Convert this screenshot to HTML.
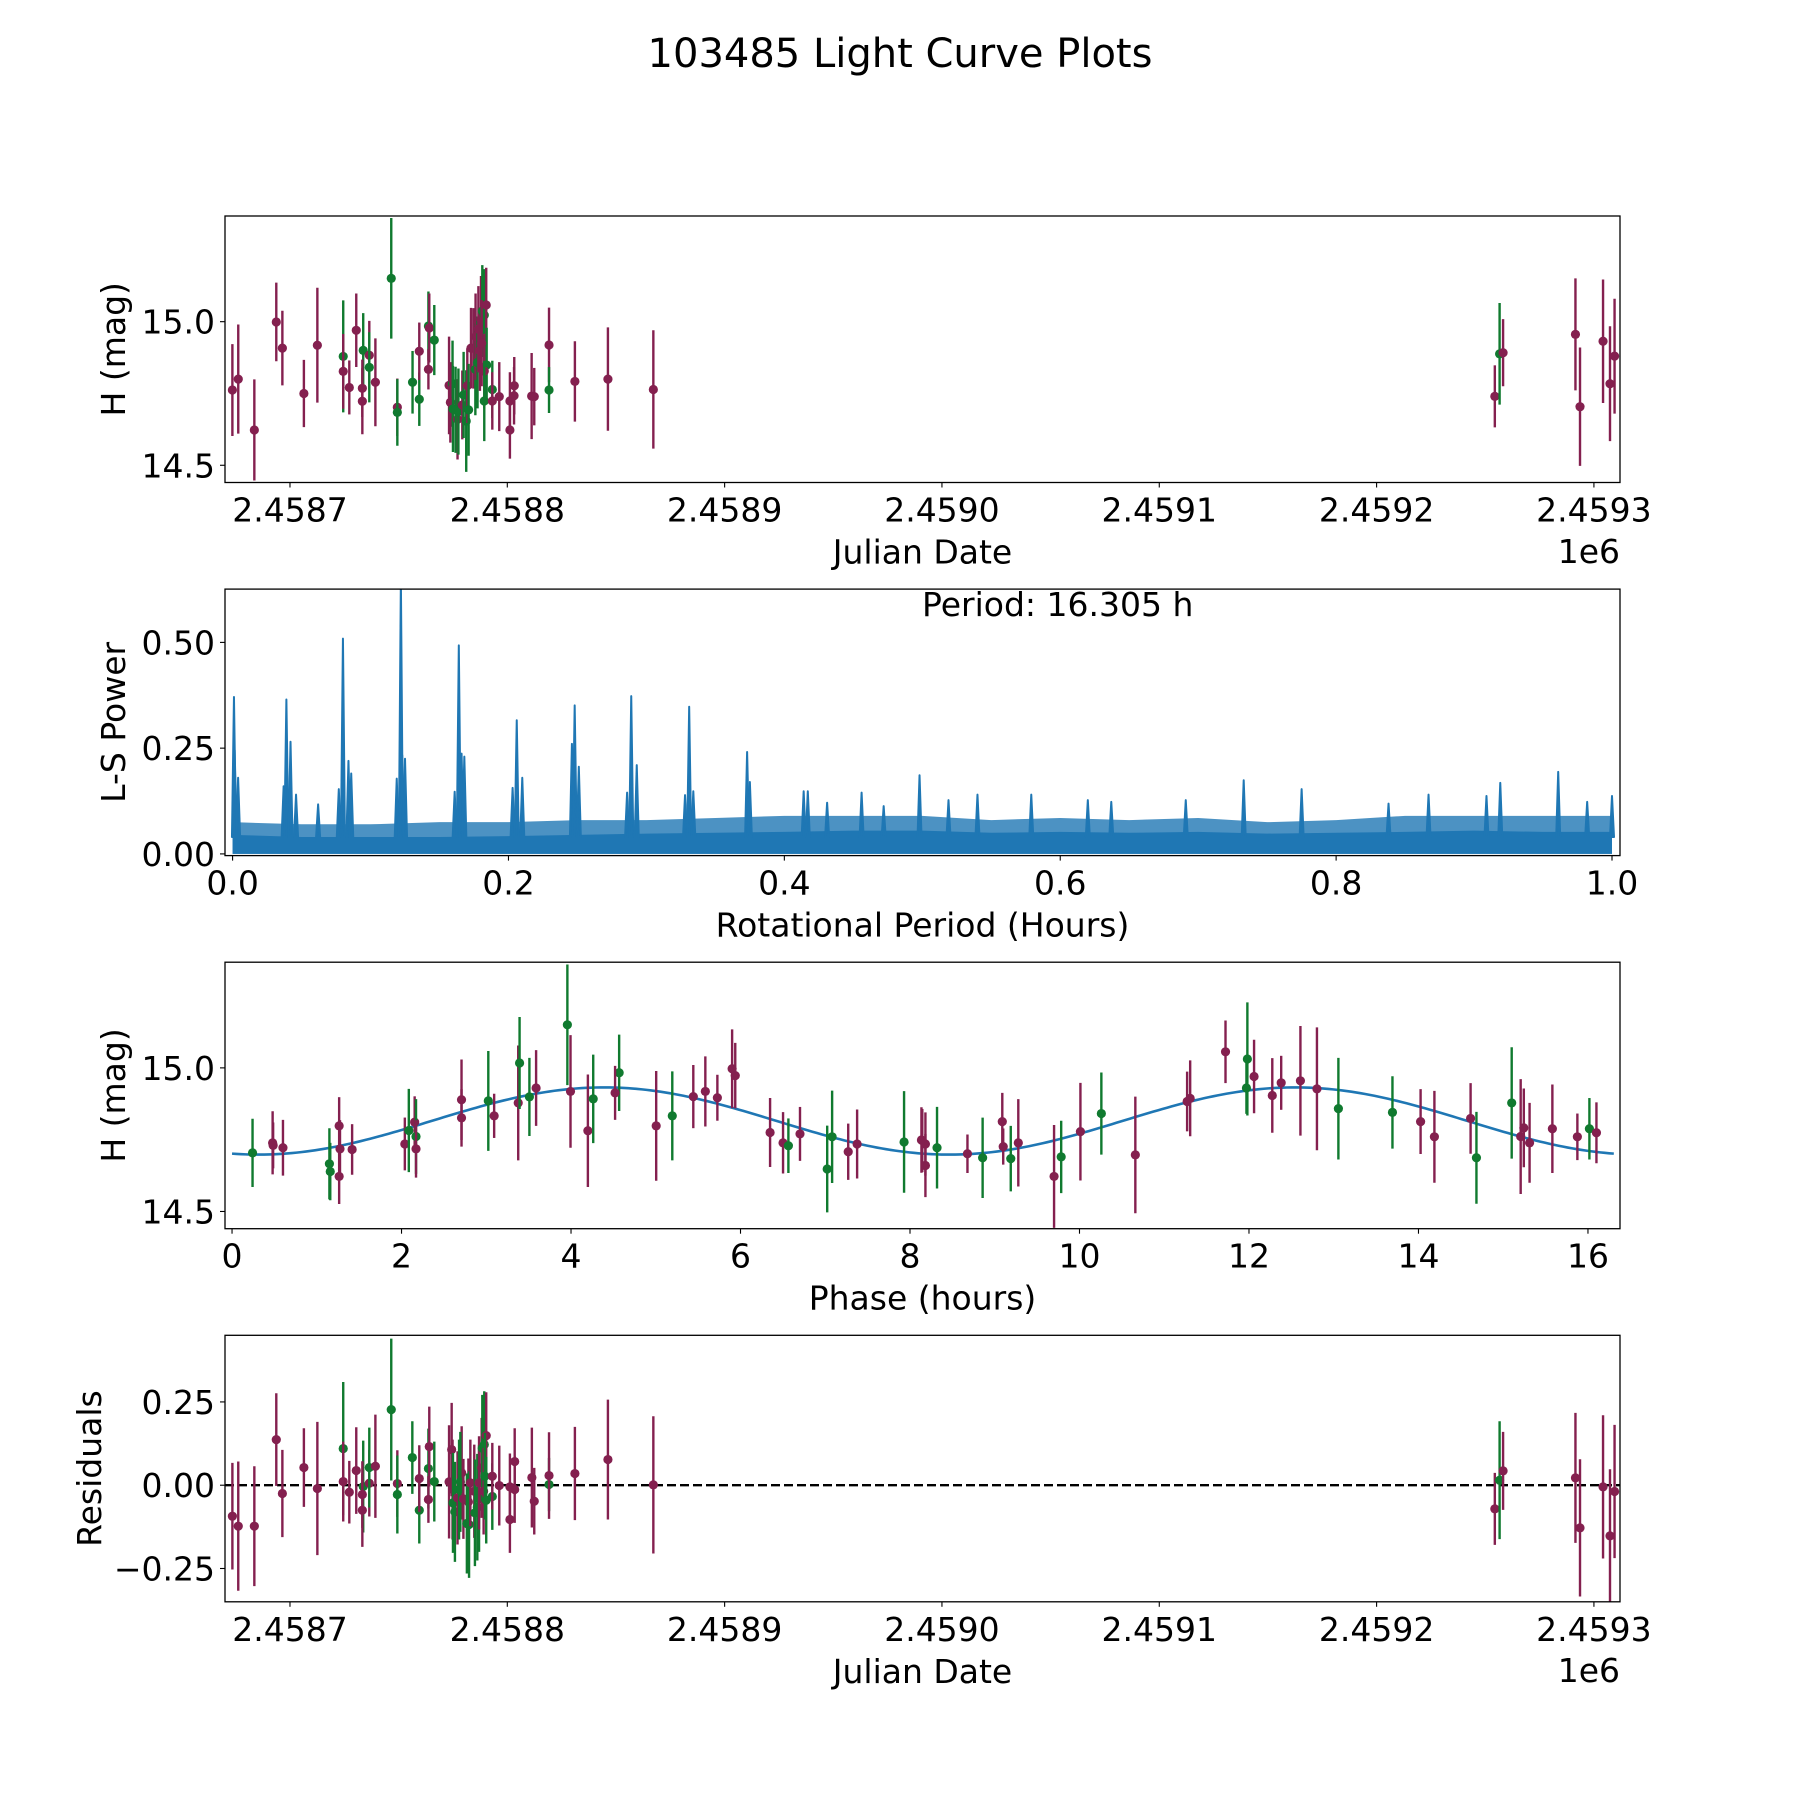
<!DOCTYPE html>
<html><head><meta charset="utf-8"><title>103485 Light Curve Plots</title>
<style>html,body{margin:0;padding:0;background:#fff}svg{display:block}text{font-family:"DejaVu Sans","Liberation Sans",sans-serif;fill:#000}</style>
</head><body>
<svg id="fig" xmlns="http://www.w3.org/2000/svg" width="1800" height="1800" viewBox="0 0 1800 1800">
<rect width="1800" height="1800" fill="#fff"/>
<text x="900" y="67" font-size="40" text-anchor="middle">103485 Light Curve Plots</text>
</svg>
<script>
// ---------- data: light curve (days from 2458700 -> JD) ----------
const lcDay=[-26.5,-23.8,-16.4,-6.3,-3.5,6.4,12.6,24.5,24.5,27.3,30.5,33.7,33.3,33.3,36.5,36.5,39.3,46.6,49.4,49.4,56.4,59.5,59.5,63.7,64.1,63.7,66.4,
73.2,74.8,73.8,75.0,77.1,76.2,77.5,79.3,79.9,81.1,81.6,82.2,83.3,84.4,85.3,85.4,86.3,86.7,87.4,87.9,88.5,89.4,90.3,90.5,89.4,88.2,89.4,93.1,93.1,96.3,101.2,101.2,103.1,103.2,111.2,112.4,119.2,119.2,131.1,146.3,167.2,
554.4,556.6,558.2,591.5,593.6,604.2,607.4,609.5];
const lcMag=[14.762,14.8,14.623,14.999,14.908,14.75,14.918,14.879,14.827,14.771,14.97,14.9,14.768,14.723,14.883,14.841,14.789,15.151,14.702,14.684,14.789,14.73,14.897,14.985,14.978,14.834,14.936,
14.778,14.784,14.719,14.696,14.66,14.693,14.687,14.71,14.745,14.654,14.777,14.693,14.908,14.907,14.834,14.948,14.858,14.974,14.899,15.009,15.037,15.023,15.058,14.849,14.828,14.925,14.724,14.764,14.724,14.739,14.724,14.623,14.742,14.777,14.741,14.739,14.919,14.762,14.792,14.8,14.764,
14.74,14.888,14.892,14.956,14.704,14.932,14.784,14.88];
const lcErr=[.16,.19,.176,.137,.13,.117,.2,.195,.13,.094,.128,.13,.1,.115,.12,.122,.153,.21,.1,.116,.109,.093,.1,.12,.12,.07,.122,
.17,.15,.14,.15,.14,.15,.15,.12,.15,.177,.13,.16,.14,.14,.16,.15,.16,.15,.14,.15,.16,.16,.13,.13,.13,.15,.14,.1,.1,.12,.1,.1,.1,.1,.15,.1,.13,.08,.14,.18,.206,
.108,.177,.117,.195,.206,.215,.2,.2];
const lcBand=["M","M","M","M","M","M","M","G","M","M","M","G","M","M","M","G","M","G","M","G","G","G","M","G","M","M","G",
"M","G","M","G","M","G","G","M","G","G","M","G","M","M","G","M","G","M","M","M","G","G","M","G","M","M","G","G","M","M","M","M","M","M","M","M","M","G","M","M","M",
"M","G","M","M","M","M","M","M"];
// ---------- data: residuals ----------
const resDay=[-26.5,-23.8,-16.4,-6.3,-3.5,6.4,12.6,24.5,24.5,27.3,30.5,33.7,33.3,33.3,36.5,36.5,39.3,46.6,49.4,49.4,56.3,59.5,59.5,63.7,64.1,63.7,66.4,
73.2,74.4,74.8,75.0,75.9,77.1,79.0,78.4,77.8,79.8,82.1,81.4,82.4,83.0,84.8,85.1,86.2,87.0,87.0,88.2,88.5,89.4,90.3,89.1,89.7,90.3,93.1,93.1,96.3,101.2,101.2,103.4,103.4,111.3,112.4,119.2,119.2,131.1,146.3,167.2,
554.4,556.6,558.2,591.5,593.6,604.2,607.4,609.5];
const resVal=[-0.093,-0.123,-0.123,0.137,-0.025,0.053,-0.01,0.11,0.011,-0.021,0.044,-0.004,-0.028,-0.075,0.006,0.053,0.057,0.227,0.005,-0.028,0.083,-0.075,0.02,0.05,0.116,-0.043,0.011,
0.01,0.107,-0.013,-0.053,-0.08,-0.038,0.037,0.01,-0.013,-0.041,-0.05,-0.115,-0.118,0.007,-0.018,-0.083,-0.066,-0.04,0.007,0.052,0.111,0.122,0.149,-0.018,0.027,-0.045,-0.034,0.027,-0.001,-0.005,-0.103,-0.013,0.071,0.023,-0.048,0.002,0.029,0.035,0.077,0.001,
-0.071,0.015,0.043,0.022,-0.128,-0.005,-0.152,-0.019];
const resErr=[.16,.194,.18,.139,.131,.118,.2,.2,.12,.094,.13,.138,.1,.11,.1,.12,.155,.213,.1,.117,.109,.1,.1,.12,.12,.07,.12,
.17,.14,.15,.15,.15,.14,.14,.15,.15,.12,.13,.15,.16,.13,.14,.16,.16,.16,.14,.15,.16,.16,.13,.13,.13,.13,.1,.1,.12,.1,.1,.1,.1,.15,.1,.08,.13,.14,.18,.206,
.108,.177,.117,.195,.206,.215,.2,.2];
const resBand=["M","M","M","M","M","M","M","G","M","M","M","G","M","M","M","G","M","G","M","G","G","G","M","G","M","M","G",
"M","M","M","G","G","M","M","G","G","M","M","G","G","M","M","G","G","G","M","M","G","G","M","M","G","G","G","M","M","M","M","M","M","M","M","G","M","M","M","M",
"M","G","M","M","M","M","M","M"];
// ---------- data: phase-folded ----------
const phHour=[0.242,0.479,0.485,0.601,1.149,1.159,1.264,1.274,1.264,1.417,2.039,2.086,2.155,2.171,2.171,2.708,2.708,3.024,3.093,3.377,3.393,3.509,3.588,3.957,3.994,4.199,4.262,4.568,4.52,5.005,5.195,5.443,5.585,5.727,5.901,5.938,6.349,6.502,6.565,6.702,7.023,7.081,7.271,7.376,7.93,8.135,
8.145,8.182,8.182,8.319,8.678,8.857,9.089,9.1,9.189,9.278,9.7,9.784,10.011,10.258,10.659,11.27,11.306,11.723,11.981,11.97,12.06,12.275,12.38,12.607,12.802,13.055,13.693,14.025,14.188,14.615,14.684,15.1,15.206,15.243,15.311,15.58,15.875,16.017,16.1];
const phMag=[14.704,14.739,14.73,14.722,14.666,14.639,14.798,14.718,14.622,14.716,14.735,14.782,14.811,14.761,14.718,14.889,14.826,14.885,14.833,14.878,15.017,14.899,14.93,15.15,14.918,14.781,14.892,14.983,14.913,14.798,14.833,14.9,14.918,14.896,14.997,14.973,14.775,14.739,14.729,14.77,14.648,14.76,14.708,14.735,14.742,14.749,
14.747,14.735,14.66,14.722,14.701,14.687,14.813,14.726,14.684,14.739,14.622,14.69,14.778,14.841,14.697,14.883,14.894,15.056,15.031,14.93,14.97,14.904,14.948,14.955,14.927,14.858,14.845,14.813,14.76,14.824,14.687,14.878,14.761,14.791,14.739,14.788,14.76,14.788,14.774];
const phErr=[.119,.11,.08,.097,.124,.1,.1,.1,.096,.088,.092,.145,.09,.13,.1,.14,.1,.174,.077,.2,.16,.136,.132,.21,.196,.196,.154,.133,.094,.191,.155,.11,.122,.08,.137,.114,.12,.107,.095,.094,.151,.161,.098,.12,.177,.114,
.11,.11,.11,.142,.067,.14,.1,.063,.114,.152,.179,.126,.17,.143,.203,.104,.132,.109,.197,.09,.128,.13,.094,.191,.214,.177,.126,.113,.16,.123,.16,.194,.2,.137,.139,.154,.081,.107,.106];
const phBand=["G","M","M","M","G","G","M","M","M","M","M","G","M","G","M","M","M","G","M","M","G","G","M","G","M","M","G","G","M","M","G","M","M","M","M","M","M","M","G","M","G","G","M","M","G","M",
"M","M","M","G","M","G","M","M","G","M","M","G","M","G","M","M","M","M","G","G","M","M","M","M","M","G","G","M","M","M","G","G","M","M","M","M","M","G","M"];
// fit model: [mean mag, amplitude, peak phase (h), period (h)]
const modelParams=[14.815,0.117,4.39,16.305];
// ---------- data: periodogram ----------
const peakPeriod=[0.001,0.0015,0.004,0.037,0.039,0.042,0.046,0.062,0.077,0.080,0.084,0.086,0.119,0.122,0.123,0.125,0.161,0.164,0.166,0.168,0.203,0.206,0.21,0.246,0.248,0.251,0.286,0.289,0.293,0.328,0.331,0.334,0.373,0.375,0.414,0.417,0.431,0.456,0.472,0.498,0.519,0.54,0.579,0.62,0.637,0.691,0.733,0.775,0.838,0.867,0.909,0.919,0.961,0.982,1.0];
const peakPower=[0.371,0.245,0.18,0.16,0.365,0.265,0.14,0.117,0.153,0.509,0.22,0.19,0.178,0.65,0.233,0.225,0.147,0.493,0.237,0.23,0.156,0.316,0.18,0.26,0.351,0.206,0.145,0.373,0.21,0.139,0.348,0.148,0.241,0.17,0.148,0.148,0.121,0.145,0.113,0.186,0.127,0.14,0.14,0.127,0.123,0.127,0.174,0.153,0.119,0.14,0.137,0.168,0.194,0.123,0.137];
const envPeriod=[0,0.05,0.1,0.15,0.2,0.25,0.3,0.35,0.4,0.45,0.5,0.55,0.6,0.65,0.7,0.75,0.8,0.85,0.9,0.95,1.0];
const envSolid=[0.045,0.04,0.04,0.04,0.042,0.045,0.048,0.05,0.052,0.055,0.055,0.05,0.052,0.05,0.052,0.048,0.05,0.052,0.055,0.052,0.052];
const envNoise=[0.075,0.07,0.07,0.075,0.075,0.08,0.08,0.085,0.09,0.09,0.09,0.08,0.085,0.08,0.085,0.075,0.08,0.09,0.09,0.09,0.09];

const NS='http://www.w3.org/2000/svg';
const svg=document.getElementById('fig');
const PUR='#84204f', GRN='#107a2f', BLU='#1f77b4';
function el(tag,attrs,parent){const e=document.createElementNS(NS,tag);for(const k in attrs)e.setAttribute(k,attrs[k]);(parent||svg).appendChild(e);return e;}
function makeAxes(id,top,xmin,xmax,ymin,ymax){
  const L=225,W=1395,H=266.5;
  const g=el('g',{});
  
  
  const cp=el('clipPath',{id:id+'-clip'},g);el('rect',{x:L,y:top,width:W,height:H},cp);
  const plot=el('g',{'clip-path':'url(#'+id+'-clip)'},g);
  
  
  return {g,plot,L,top,W,H,sx:v=>L+(v-xmin)/(xmax-xmin)*W,sy:v=>top+H-(v-ymin)/(ymax-ymin)*H};
}
function frame(a){
  const f=el('rect',{x:a.L,y:a.top,width:a.W,height:a.H,fill:'none',stroke:'#000','stroke-width':1.3},a.g);
  
  
}
function xticks(a,vals,labels,name){
  vals.forEach((v,i)=>{const x=a.sx(v),b=a.top+a.H;
    el('line',{x1:x,x2:x,y1:b,y2:b+5,stroke:'#000','stroke-width':1.1},a.g);
    const t=el('text',{x:x,y:b+39,'font-size':33,'text-anchor':'middle'},a.g);t.textContent=labels[i];
    
    });
}
function yticks(a,vals,labels,name){
  vals.forEach((v,i)=>{const y=a.sy(v);
    el('line',{x1:a.L-5,x2:a.L,y1:y,y2:y,stroke:'#000','stroke-width':1.1},a.g);
    const t=el('text',{x:a.L-10,y:y+12,'font-size':33,'text-anchor':'end'},a.g);t.textContent=labels[i];
    
    });
}
function xlabel(a,txt,name){const t=el('text',{x:a.L+a.W/2,y:a.top+a.H+81,'font-size':33,'text-anchor':'middle'},a.g);t.textContent=txt;
  
  }
function ylabel(a,txt,name,x){const cy=a.top+a.H/2;const t=el('text',{x:x,y:cy,'font-size':33,'text-anchor':'middle',transform:'rotate(-90 '+x+' '+cy+')'},a.g);t.textContent=txt;
  
  }
function errpts(a,xs,ys,es,bands,name){
  for(let i=0;i<xs.length;i++){const c=bands[i]==='G'?GRN:PUR;const x=a.sx(xs[i]);
    const ln=el('line',{x1:x,x2:x,y1:a.sy(ys[i]+es[i]),y2:a.sy(ys[i]-es[i]),stroke:c,'stroke-width':2.4},a.plot);
    
    
    const d=el('circle',{cx:x,cy:a.sy(ys[i]),r:4.6,fill:c},a.plot);
    
    }
}
const jdTicks=[0,100,200,300,400,500,600], jdLabels=['2.4587','2.4588','2.4589','2.4590','2.4591','2.4592','2.4593'];

// Panel 1
const a1=makeAxes('light-curve',216,-29.9,612,14.44,15.368);
errpts(a1,lcDay,lcMag,lcErr,lcBand,'light-curve');
frame(a1);xticks(a1,jdTicks,jdLabels,'julian-date');yticks(a1,[14.5,15.0],['14.5','15.0'],'magnitude');
xlabel(a1,'Julian Date','x-axis-title-julian-date');ylabel(a1,'H (mag)','y-axis-title-magnitude',125);
let off=el('text',{x:1620,y:563,'font-size':33,'text-anchor':'end'},a1.g);off.textContent='1e6';



// Panel 2 periodogram
const a2=makeAxes('periodogram',589.1,-0.0055,1.0058,-0.004,0.626);
let pn='M'+a2.sx(envPeriod[0])+','+a2.sy(0);envPeriod.forEach((p,i)=>pn+=' L'+a2.sx(p)+','+a2.sy(envNoise[i]));pn+=' L'+a2.sx(1)+','+a2.sy(0)+'Z';
const nz=el('path',{d:pn,fill:BLU,opacity:0.8},a2.plot);


let ps='M'+a2.sx(envPeriod[0])+','+a2.sy(0);envPeriod.forEach((p,i)=>ps+=' L'+a2.sx(p)+','+a2.sy(envSolid[i]));ps+=' L'+a2.sx(1)+','+a2.sy(0)+'Z';
const sd=el('path',{d:ps,fill:BLU},a2.plot);


peakPeriod.forEach((p,i)=>{const x=a2.sx(p);
  const pk=el('path',{d:'M'+(x-2)+','+a2.sy(0.04)+' L'+x+','+a2.sy(peakPower[i])+' L'+(x+2)+','+a2.sy(0.04)+'Z',fill:BLU,stroke:BLU,'stroke-width':2,'stroke-linejoin':'round'},a2.plot);
  
  });
frame(a2);xticks(a2,[0,0.2,0.4,0.6,0.8,1.0],['0.0','0.2','0.4','0.6','0.8','1.0'],'period');
yticks(a2,[0,0.25,0.5],['0.00','0.25','0.50'],'power');
xlabel(a2,'Rotational Period (Hours)','x-axis-title-period');ylabel(a2,'L-S Power','y-axis-title-power',125);
let pt=el('text',{x:922,y:616,'font-size':33},a2.g);pt.textContent='Period: 16.305 h';



// Panel 3 phase
const a3=makeAxes('phase-curve',962.2,-0.083,16.378,14.44,15.368);
let md='';for(let k=0;k<=300;k++){const p=modelParams[3]*k/300;const m=modelParams[0]+modelParams[1]*Math.cos(4*Math.PI*(p-modelParams[2])/modelParams[3]);md+=(k?' L':'M')+a3.sx(p).toFixed(2)+','+a3.sy(m).toFixed(2);}
const mc=el('path',{d:md,fill:'none',stroke:BLU,'stroke-width':2.6},a3.plot);


errpts(a3,phHour,phMag,phErr,phBand,'phase');
frame(a3);xticks(a3,[0,2,4,6,8,10,12,14,16],['0','2','4','6','8','10','12','14','16'],'phase');
yticks(a3,[14.5,15.0],['14.5','15.0'],'phase-magnitude');
xlabel(a3,'Phase (hours)','x-axis-title-phase');ylabel(a3,'H (mag)','y-axis-title-phase-magnitude',125);

// Panel 4 residuals
const a4=makeAxes('residuals',1335.3,-29.9,612,-0.35,0.45);
const zl=el('line',{x1:a4.L,x2:a4.L+a4.W,y1:a4.sy(0),y2:a4.sy(0),stroke:'#000','stroke-width':2.4,'stroke-dasharray':'9,4'},a4.plot);


errpts(a4,resDay,resVal,resErr,resBand,'residual');
frame(a4);xticks(a4,jdTicks,jdLabels,'residual-julian-date');
yticks(a4,[-0.25,0,0.25],['\u22120.25','0.00','0.25'],'residual');
xlabel(a4,'Julian Date','x-axis-title-residual-julian-date');ylabel(a4,'Residuals','y-axis-title-residuals',101);
let off2=el('text',{x:1620,y:1682,'font-size':33,'text-anchor':'end'},a4.g);off2.textContent='1e6';


</script>
</body></html>
